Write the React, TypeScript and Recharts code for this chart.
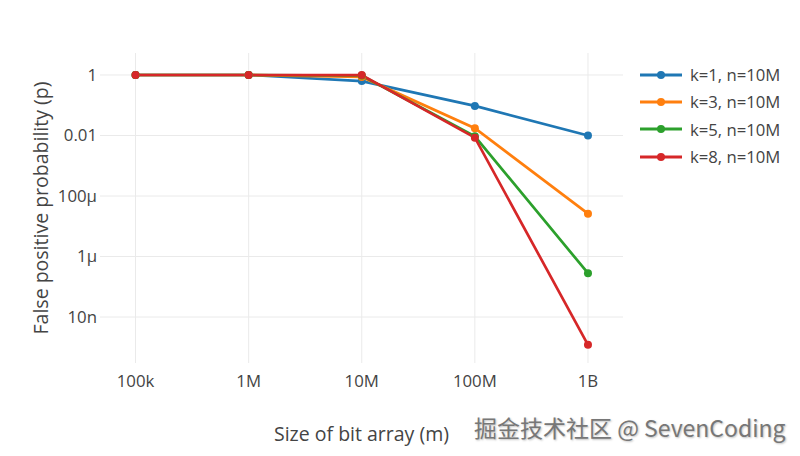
import React from "react";
import { LineChart, Line, XAxis, YAxis, ReferenceLine } from "recharts";

const sizes = [1e5, 1e6, 1e7, 1e8, 1e9];
const sizeLabels = ["100k", "1M", "10M", "100M", "1B"];
const yTicks = [1, 0.01, 1e-4, 1e-6, 1e-8];
const yTickLabels = ["1", "0.01", "100μ", "1μ", "10n"];

const k1 = [1, 1, 0.63, 0.095, 0.00995];
const k3 = [1, 1, 0.86, 0.0174, 2.6e-5];
const k5 = [1, 1, 0.96, 0.0094, 2.8e-7];
const k8 = [1, 1, 0.997, 0.0085, 1.2e-9];

const seriesNames = ["k=1, n=10M", "k=3, n=10M", "k=5, n=10M", "k=8, n=10M"];
const seriesKeys = ["k1", "k3", "k5", "k8"];
const colors = ["#1f77b4", "#ff7f0e", "#2ca02c", "#d62728"];

const data = sizes.map((m, i) => ({ m, k1: k1[i], k3: k3[i], k5: k5[i], k8: k8[i] }));

const FONT = '"Open Sans", "Noto Sans", sans-serif';
const TXT = "#444";
const GRID = "#eaeaea";

const LegendBox = () => (
  <div style={{ position: "absolute", left: 640, top: 61, fontFamily: FONT, fontSize: 16.7, color: TXT }}>
    {seriesNames.map((n, i) => (
      <div key={n} style={{ display: "flex", alignItems: "center", height: 27.3 }}>
        <svg width={44} height={12} style={{ marginRight: 6 }}>
          <line x1={0} y1={6} x2={42} y2={6} stroke={colors[i]} strokeWidth={3} />
          <circle cx={21} cy={6} r={4} fill={colors[i]} />
        </svg>
        <span>{n}</span>
      </div>
    ))}
  </div>
);

export default function App() {
  return (
    <div style={{ position: "absolute", left: 0, top: 0, width: 800, height: 456, background: "#fff" }}>
      <LineChart
        width={800}
        height={456}
        data={data}
        margin={{ top: 53, right: 177, bottom: 0, left: 0 }}
      >
        <XAxis
          dataKey="m"
          type="number"
          scale="log"
          domain={[48500, 2.04e9]}
          allowDataOverflow
          ticks={sizes}
          tickFormatter={(v: number) => sizeLabels[sizes.indexOf(v)] ?? ""}
          axisLine={false}
          tickLine={false}
          tickSize={0}
          tickMargin={12}
          height={93}
          tick={{ fill: TXT, fontFamily: FONT, fontSize: 16.8 }}
          label={{ value: "Size of bit array (m)", position: "insideBottom", offset: 15, fill: TXT, fontFamily: FONT, fontSize: 19.5 }}
        />
        <YAxis
          type="number"
          scale="log"
          domain={[3.02e-10, 5.33]}
          allowDataOverflow
          ticks={yTicks}
          tickFormatter={(v: number) => yTickLabels[yTicks.indexOf(v)] ?? ""}
          axisLine={false}
          tickLine={false}
          tickSize={0}
          tickMargin={3}
          width={100}
          tick={{ fill: TXT, fontFamily: FONT, fontSize: 16.8 }}
          label={{ value: "False positive probability (p)", angle: -90, position: "insideLeft", offset: 41, fill: TXT, fontFamily: FONT, fontSize: 19.5, style: { textAnchor: "middle" } }}
        />
        {yTicks.map((t) => (
          <ReferenceLine key={"h" + t} y={t} stroke={GRID} strokeWidth={1} />
        ))}
        {sizes.map((t) => (
          <ReferenceLine key={"v" + t} x={t} stroke={GRID} strokeWidth={1} />
        ))}
        {seriesKeys.map((k, i) => (
          <Line
            key={k}
            dataKey={k}
            name={seriesNames[i]}
            stroke={colors[i]}
            strokeWidth={2.7}
            dot={{ r: 4, fill: colors[i], stroke: colors[i], strokeWidth: 0 }}
            isAnimationActive={false}
          />
        ))}
      </LineChart>
      <LegendBox />
      <div
        style={{
          position: "absolute",
          left: 474,
          top: 410,
          fontFamily: '"Noto Sans CJK SC", "Noto Sans", sans-serif',
          fontSize: 23,
          color: "#777",
          textShadow: "1px 1px 2px rgba(0,0,0,0.25)",
          whiteSpace: "nowrap",
        }}
      >
        掘金技术社区 @ SevenCoding
      </div>
    </div>
  );
}
